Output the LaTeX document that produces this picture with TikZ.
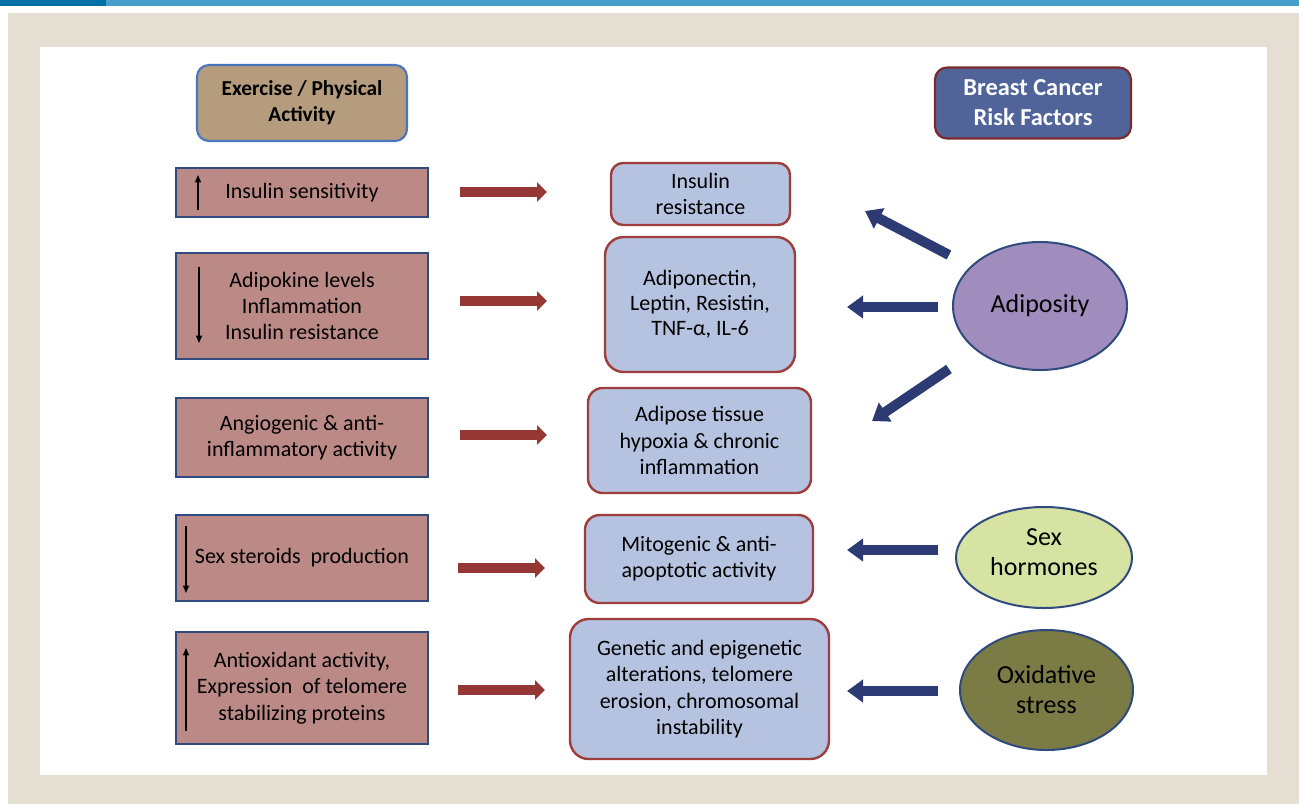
\documentclass[tikz,border=0pt]{standalone}
\usepackage{fontspec}
\setmainfont{Carlito}
\usetikzlibrary{arrows.meta,shapes.geometric}
\definecolor{barlight}{HTML}{44A0CB}
\definecolor{bardark}{HTML}{0071A8}
\definecolor{beige}{HTML}{E5DFD3}
\definecolor{rosefill}{HTML}{BC8A86}
\definecolor{navyb}{HTML}{2F4A7C}
\definecolor{bluefill}{HTML}{B5C3E0}
\definecolor{redb}{HTML}{9E3D3B}
\definecolor{redarr}{HTML}{953735}
\definecolor{bluearr}{HTML}{2C3B74}
\definecolor{exfill}{HTML}{B49C7C}
\definecolor{exborder}{HTML}{4A76C0}
\definecolor{bcfill}{HTML}{50649A}
\definecolor{bcborder}{HTML}{7A2A2A}
\definecolor{adipfill}{HTML}{A08DBE}
\definecolor{sexfill}{HTML}{D6E3A3}
\definecolor{oxfill}{HTML}{7B7B45}
\begin{document}
\begin{tikzpicture}[x=0.75pt,y=-0.75pt,
  txt/.style={font=\fontsize{16.5}{19.7}\selectfont, align=center},
  leftbox/.style={txt, draw=navyb, line width=1.8pt, fill=rosefill, minimum width=189pt, inner sep=0pt},
  midbox/.style={txt, draw=redb, line width=1.8pt, fill=bluefill, rounded corners=11pt, inner sep=0pt},
  riskfont/.style={align=center, font=\fontsize{19.5}{22.5}\selectfont},
  riskell/.style={ellipse, draw=navyb, line width=1.5pt, inner sep=0pt, riskfont},
  redarrow/.style={draw=redarr, line width=7pt, -{Triangle[length=7.5pt,width=14.5pt]}},
  bluearrow/.style={draw=bluearr, line width=7.5pt, -{Triangle[length=12pt,width=16.5pt]}},
  smallarrow/.style={draw=black, line width=0.9pt, -{Triangle[length=5.5pt,width=4.5pt]}}
]
\useasboundingbox (0,0) rectangle (1299,804);
% frame
\fill[barlight] (0,0) rectangle (1299,6);
\fill[bardark] (0,0) rectangle (106,6);
\fill[beige] (8,13) rectangle (1299,804);
\fill[white] (40,47) rectangle (1267,775);

% headers
\node[txt, font=\fontsize{16}{19.5}\selectfont\bfseries, draw=exborder, line width=1.6pt, fill=exfill, rounded corners=9pt,
  minimum width=157.5pt, minimum height=57pt, inner sep=0pt] (ex) at (302,103) {Exercise / Physical\\Activity};
\node[font=\fontsize{18.3}{22.5}\selectfont\bfseries, align=center, text=white, draw=bcborder, line width=1.6pt, fill=bcfill,
  rounded corners=9pt, minimum width=147pt, minimum height=53.25pt, inner sep=0pt] (bc) at (1033,103) {Breast Cancer\\Risk Factors};

% left boxes
\node[leftbox, minimum height=36.75pt] (L1) at (302,192.5) {\raisebox{-1.5pt}{Insulin sensitivity}};
\node[leftbox, minimum height=79.5pt] (L2) at (302,306) {Adipokine levels\\Inflammation\\Insulin resistance};
\node[leftbox, minimum height=59.25pt] (L3) at (302,437.5) {Angiogenic \& anti-\\inflammatory activity};
\node[leftbox, minimum height=64.5pt] (L4) at (302,558) {\raisebox{-1.5pt}{Sex steroids~~production}};
\node[leftbox, minimum height=84pt] (L5) at (302,688) {Antioxidant activity,\\Expression~~of telomere\\stabilizing proteins};

% small arrows inside left boxes
\coordinate (a1s) at (198,210); \coordinate (a1e) at (198,175);
\coordinate (a2s) at (199,267); \coordinate (a2e) at (199,343);
\coordinate (a4s) at (186,526); \coordinate (a4e) at (186,593);
\coordinate (a5s) at (186,731); \coordinate (a5e) at (186,648);
\draw[smallarrow] (a1s) -- (a1e);
\draw[smallarrow] (a2s) -- (a2e);
\draw[smallarrow] (a4s) -- (a4e);
\draw[smallarrow] (a5s) -- (a5e);

% middle boxes
\node[midbox, minimum width=134.25pt, minimum height=46.5pt, rounded corners=9pt] (M1) at (700.5,194) {Insulin\\resistance};
\node[midbox, minimum width=142.5pt, minimum height=101.25pt, rounded corners=14pt, font=\fontsize{16.5}{18.6}\selectfont] (M2) at (700,304.5) {Adiponectin,\\Leptin, Resistin,\\TNF-α, IL-6};
\node[midbox, minimum width=167.25pt, minimum height=78.75pt] (M3) at (699.5,440.5) {Adipose tissue\\hypoxia \& chronic\\inflammation};
\node[midbox, minimum width=171pt, minimum height=66pt] (M4) at (699,559) {Mitogenic \& anti-\\apoptotic activity};
\node[midbox, minimum width=194.25pt, minimum height=105pt, rounded corners=14pt] (M5) at (699.5,689) {Genetic and epigenetic\\alterations, telomere\\erosion, chromosomal\\instability};

% ellipses
\node[riskell, fill=adipfill, minimum width=130.5pt, minimum height=96pt] (E1) at (1040,306) {Adiposity};
\node[riskell, fill=sexfill, minimum width=132pt, minimum height=75.75pt,
  label={[riskfont, yshift=4pt]center:Sex\\hormones}] (E2) at (1044,557.5) {};
\node[riskell, fill=oxfill, minimum width=129.75pt, minimum height=90pt] (E3) at (1046.5,690) {Oxidative\\stress};

% red arrows
\coordinate (r1s) at (460,192); \coordinate (r1e) at (547,192);
\coordinate (r2s) at (460,301); \coordinate (r2e) at (547,301);
\coordinate (r3s) at (460,435); \coordinate (r3e) at (547,435);
\coordinate (r4s) at (458,568); \coordinate (r4e) at (545,568);
\coordinate (r5s) at (458,690); \coordinate (r5e) at (545,690);
\draw[redarrow] (r1s) -- (r1e);
\draw[redarrow] (r2s) -- (r2e);
\draw[redarrow] (r3s) -- (r3e);
\draw[redarrow] (r4s) -- (r4e);
\draw[redarrow] (r5s) -- (r5e);

% blue arrows
\coordinate (b1s) at (949,255); \coordinate (b1e) at (865,211);
\coordinate (b2s) at (938,307); \coordinate (b2e) at (847,307);
\coordinate (b3s) at (949,369); \coordinate (b3e) at (872,421);
\coordinate (b4s) at (938,550); \coordinate (b4e) at (847,550);
\coordinate (b5s) at (938,691); \coordinate (b5e) at (847,691);
\draw[bluearrow] (b1s) -- (b1e);
\draw[bluearrow] (b2s) -- (b2e);
\draw[bluearrow] (b3s) -- (b3e);
\draw[bluearrow] (b4s) -- (b4e);
\draw[bluearrow] (b5s) -- (b5e);
\end{tikzpicture}
\end{document}
